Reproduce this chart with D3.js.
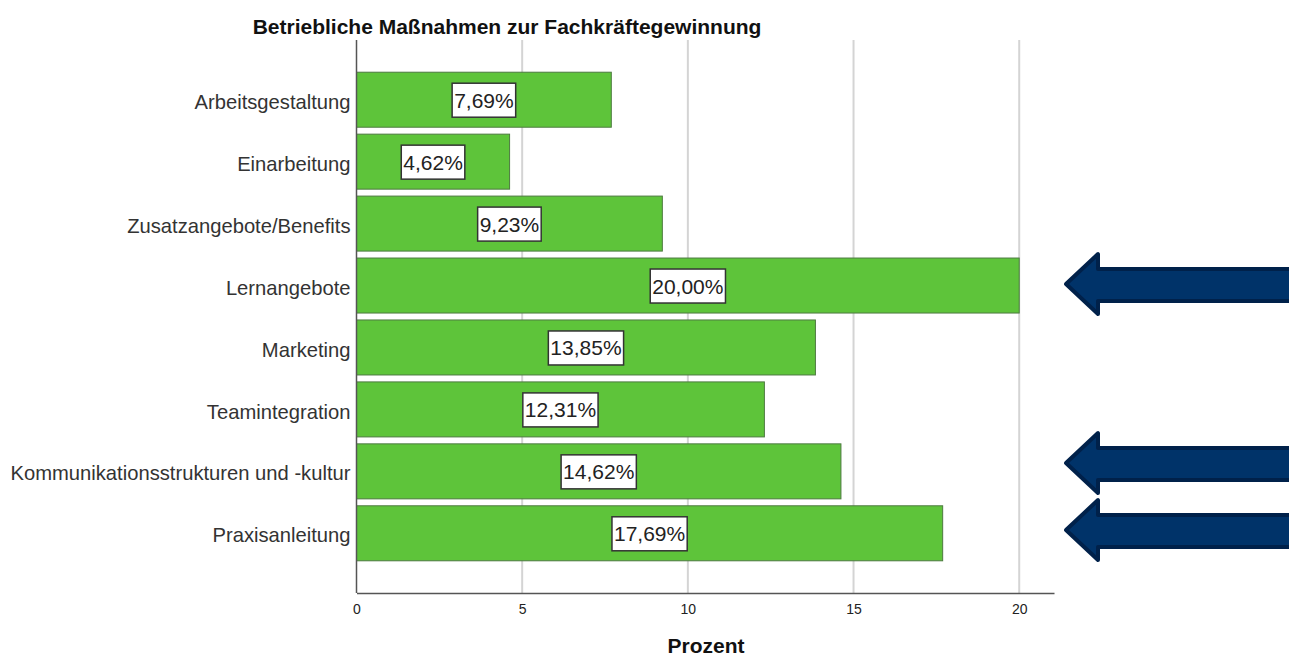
<!DOCTYPE html>
<html>
<head>
<meta charset="utf-8">
<script src="https://cdn.jsdelivr.net/npm/d3@7"></script>
<style>
  body { margin: 0; background: #fff; }
  svg { display: block; font-family: "Liberation Sans", Arial, sans-serif; }
</style>
</head>
<body>
<div id="chart"></div>
<script>
const categories = [
  "Arbeitsgestaltung",
  "Einarbeitung",
  "Zusatzangebote/Benefits",
  "Lernangebote",
  "Marketing",
  "Teamintegration",
  "Kommunikationsstrukturen und -kultur",
  "Praxisanleitung"
];
const percents = [7.69, 4.62, 9.23, 20.00, 13.85, 12.31, 14.62, 17.69];
const xTicks = [0, 5, 10, 15, 20];
const highlighted = ["Lernangebote", "Kommunikationsstrukturen und -kultur", "Praxisanleitung"];

const width = 1289, height = 659;
const margin = { top: 40, right: 235, bottom: 66, left: 356.5 };

const data = categories.map((c, i) => ({ cat: c, value: percents[i] }));

const x = d3.scaleLinear()
  .domain([0, 21.05])
  .range([margin.left, width - margin.right]);

const y = d3.scaleBand()
  .domain(categories)
  .range([margin.top, height - margin.bottom])
  .paddingInner(0.112)
  .paddingOuter(0.52);

const svg = d3.select("#chart")
  .append("svg")
  .attr("width", width)
  .attr("height", height);

// gridlines
svg.append("g")
  .selectAll("line")
  .data(xTicks.filter(d => d > 0))
  .join("line")
  .attr("x1", d => x(d)).attr("x2", d => x(d))
  .attr("y1", margin.top).attr("y2", height - margin.bottom)
  .attr("stroke", "#d4d4d4")
  .attr("stroke-width", 2);

// bars
svg.append("g")
  .selectAll("rect")
  .data(data)
  .join("rect")
  .attr("x", x(0))
  .attr("y", d => y(d.cat))
  .attr("width", d => x(d.value) - x(0))
  .attr("height", y.bandwidth())
  .attr("fill", "#5ec43a")
  .attr("stroke", "#4d7a40")
  .attr("stroke-width", 1);

// axes
const xAxis = svg.append("g")
  .attr("transform", `translate(0,${height - margin.bottom})`)
  .call(d3.axisBottom(x).tickValues(xTicks).tickSize(0).tickPadding(11).tickFormat(d3.format("d")));
xAxis.select(".domain").attr("stroke", "#555").attr("stroke-width", 1.5);
xAxis.selectAll("text").attr("font-size", 14).attr("fill", "#222")
  .attr("font-family", "\"Liberation Sans\", Arial, sans-serif");

const yAxis = svg.append("g")
  .attr("transform", `translate(${x(0)},0)`)
  .call(d3.axisLeft(y).tickSize(0).tickPadding(6));
yAxis.select(".domain").attr("stroke", "#555").attr("stroke-width", 1.5)
  .attr("d", `M0,${margin.top}V${height - margin.bottom}`);
yAxis.selectAll("text").attr("font-size", 20.2).attr("fill", "#333").attr("dy", "0.45em")
  .attr("font-family", "\"Liberation Sans\", Arial, sans-serif");

// value labels in boxes
const labels = svg.append("g")
  .selectAll("g")
  .data(data)
  .join("g")
  .attr("transform", d => `translate(${x(d.value / 2)},${y(d.cat) + y.bandwidth() / 2})`);

labels.append("text")
  .attr("text-anchor", "middle")
  .attr("dy", "0.38em")
  .attr("font-size", 21)
  .attr("fill", "#222")
  .text(d => d.value.toFixed(2).replace(".", ",") + "%");

labels.each(function() {
  const g = d3.select(this);
  const bb = g.select("text").node().getBBox();
  g.insert("rect", "text")
    .attr("x", bb.x - 2)
    .attr("y", -16.5)
    .attr("width", bb.width + 4)
    .attr("height", 34)
    .attr("fill", "#fff")
    .attr("stroke", "#333")
    .attr("stroke-width", 1.5);
});

// title
svg.append("text")
  .attr("x", 507)
  .attr("y", 34)
  .attr("text-anchor", "middle")
  .attr("font-size", 21)
  .attr("font-weight", "bold")
  .attr("fill", "#111")
  .text("Betriebliche Maßnahmen zur Fachkräftegewinnung");

// x axis title
svg.append("text")
  .attr("x", 706)
  .attr("y", 653)
  .attr("text-anchor", "middle")
  .attr("font-size", 21)
  .attr("font-weight", "bold")
  .attr("fill", "#111")
  .text("Prozent");

// arrows pointing at highlighted bars
const arrowY = { "Lernangebote": 284, "Kommunikationsstrukturen und -kultur": 463, "Praxisanleitung": 530 };
const arrow = d3.line()([
  [0, 0], [32, -30], [32, -15], [230, -15], [230, 17], [32, 17], [32, 30]
]) + "Z";
svg.append("g")
  .selectAll("path")
  .data(highlighted)
  .join("path")
  .attr("transform", d => `translate(1066,${arrowY[d]})`)
  .attr("d", arrow)
  .attr("fill", "#003369")
  .attr("stroke", "#00214a")
  .attr("stroke-width", 4)
  .attr("stroke-linejoin", "round");
</script>
</body>
</html>
